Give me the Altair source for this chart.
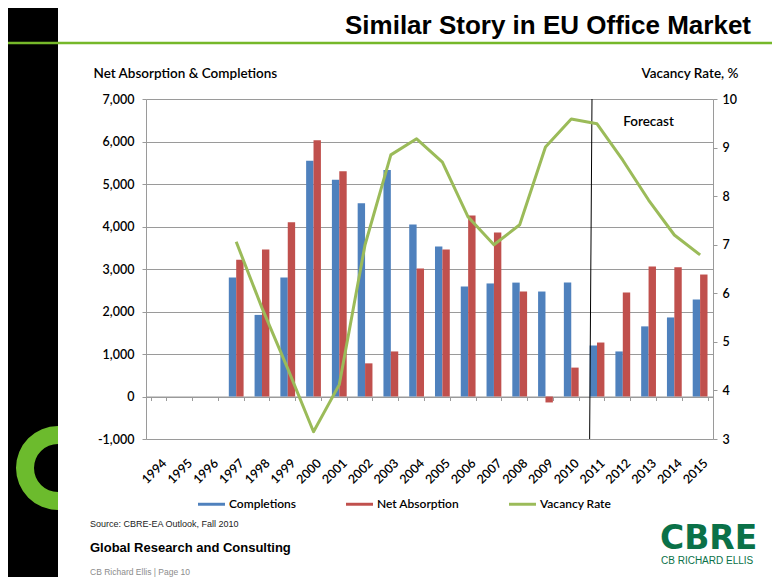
import math
import altair as alt
import pandas as pd

# ---------------- data ----------------
years = [str(y) for y in range(1994, 2016)]
completions = [None, None, None, 2800, 1920, 2800, 5550, 5100, 4550, 5330, 4050,
               3530, 2590, 2660, 2680, 2470, 2680, 1200, 1060, 1650, 1860, 2280]
net_absorption = [None, None, None, 3220, 3460, 4100, 6030, 5300, 780, 1060, 3010,
                  3460, 4260, 3860, 2470, -140, 680, 1270, 2450, 3060, 3040, 2870]
vacancy_rate = [None, None, None, 7.06, 5.70, 4.45, 3.15, 4.12, 7.00, 8.85, 9.18,
                8.70, 7.57, 7.00, 7.41, 9.01, 9.59, 9.49, 8.74, 7.92, 7.20, 6.79]
series_names = ["Completions", "Net Absorption", "Vacancy Rate"]
series_colors = ["#4F81BD", "#C0504D", "#9BBB59"]
left_ticks = list(range(-1000, 8000, 1000))
right_ticks = list(range(3, 11))

bar_rows = []
for y, c, a in zip(years, completions, net_absorption):
    if c is not None:
        bar_rows.append({"year": y, "series": "Completions", "value": c})
    if a is not None:
        bar_rows.append({"year": y, "series": "Net Absorption", "value": a})
bar_df = pd.DataFrame(bar_rows)
vac_df = pd.DataFrame([{"year": y, "rate": v} for y, v in zip(years, vacancy_rate) if v is not None])

# ---------------- layout helpers ----------------
W, H = 764, 569
PLOT_W, PLOT_H = 567, 340
PL, PT = 138, 91  # plot origin on the svg (page 146, 99)


def px(page_x):
    return page_x - 146


def py(page_y):
    return page_y - 99


GREY = "#9a9a9a"
FONT = "Lato"
FW = 600
ARIAL = "Liberation Sans, Arial, sans-serif"
dummy = alt.Data(values=[{}])

xscale = alt.Scale(domain=years, paddingInner=0.426, paddingOuter=0.213)
xaxis = alt.Axis(title=None, offset=-42.5, domainColor=GREY, tickColor=GREY, tickSize=4,
                 tickBand="extent", labelAngle=315, labelAlign="right", labelBaseline="top",
                 labelPadding=56, labelOffset=1, labelFont=FONT, labelFontSize=12.5,
                 labelFontWeight=FW, labelColor="black", labelOverlap=False, grid=False)
lscale = alt.Scale(domain=[-1000, 7000], nice=False)
laxis = alt.Axis(values=left_ticks, format=",d", labelExpr="replace(datum.label, '\u2212', '-')",
                 grid=True, gridColor=GREY, domainColor=GREY, tickColor=GREY, tickSize=4,
                 labelPadding=8, labelFont=FONT, labelFontSize=12.5, labelFontWeight=FW,
                 labelColor="black",
                 title="Net Absorption & Completions", titleAngle=0, titleAlign="left",
                 titleBaseline="middle", titleX=-53, titleY=-26, titleFont=FONT,
                 titleFontSize=13.5, titleFontWeight=FW, titleColor="black")
rscale = alt.Scale(domain=[3, 10], nice=False)
raxis = alt.Axis(orient="right", values=right_ticks, grid=False, domainColor=GREY,
                 tickColor=GREY, tickSize=4, labelPadding=5, labelFont=FONT,
                 labelFontSize=12.5, labelFontWeight=FW, labelColor="black",
                 title="Vacancy Rate, %", titleAngle=0, titleAlign="right",
                 titleBaseline="middle", titleX=25, titleY=-26, titleFont=FONT,
                 titleFontSize=13.5, titleFontWeight=FW, titleColor="black")

legend = alt.Legend(orient="none", legendX=52, legendY=391.5, direction="horizontal",
                    title=None, symbolType="M-1,-0.11H1V0.11H-1Z", symbolSize=729,
                    symbolStrokeWidth=0, labelFont=FONT, labelFontSize=12,
                    labelFontWeight=FW, labelColor="black", columnPadding=49,
                    labelOffset=4, padding=0)

bars = alt.Chart(bar_df).mark_bar().encode(
    x=alt.X("year:O", scale=xscale, axis=xaxis),
    xOffset=alt.XOffset("series:N", scale=alt.Scale(domain=series_names[:2]), sort=series_names[:2]),
    y=alt.Y("value:Q", scale=lscale, axis=laxis),
    color=alt.Color("series:N", scale=alt.Scale(domain=series_names, range=series_colors),
                    legend=legend),
)

divider = alt.Chart(dummy).mark_rule(color="black", strokeWidth=1).encode(
    x=alt.X(datum="2011", type="ordinal", bandPosition=0.16, scale=xscale),
    x2=alt.X2Datum("2011", bandPosition=0.0),
    y=alt.Y(datum=7000, scale=lscale),
    y2=alt.Y2Datum(-1000),
)

left = alt.layer(bars, divider)

line = alt.Chart(vac_df).mark_line(color="#9BBB59", strokeWidth=3, strokeJoin="round").encode(
    x=alt.X("year:O", scale=xscale, axis=xaxis),
    y=alt.Y("rate:Q", scale=rscale, axis=raxis),
)
forecast = alt.Chart(dummy).mark_text(text="Forecast", font=FONT, fontSize=13.5,
                                      fontWeight=FW, color="black", baseline="middle").encode(
    x=alt.X(datum="2013", type="ordinal", scale=xscale),
    y=alt.Y(datum=9.53, scale=rscale),
)
right = alt.layer(line, forecast)


# ---------------- slide decoration ----------------
def txt(text, x, y, **kw):
    return alt.Chart(dummy).mark_text(text=text, **kw).encode(x=alt.value(x), y=alt.value(y))


black_bar = alt.Chart(dummy).mark_rect(color="black").encode(
    x=alt.value(-PL), x2=alt.value(px(58)), y=alt.value(-PT), y2=alt.value(H - PT))
top_line = alt.Chart(dummy).mark_rule(color="#76B82A", strokeWidth=2.5).encode(
    x=alt.value(-PL), x2=alt.value(W - PL), y=alt.value(py(43)))
c_logo = alt.Chart(dummy).mark_arc(radius=42, radius2=24, theta=math.pi, theta2=2 * math.pi,
                                   color="#6CBB2D").encode(
    x=alt.value(px(58)), y=alt.value(py(468)))

title = txt("Similar Story in EU Office Market", px(751), py(34), align="right",
            baseline="alphabetic", font=ARIAL, fontSize=26, fontWeight="bold", color="black")
source = txt("Source: CBRE-EA Outlook, Fall 2010", px(90), py(527), align="left",
             baseline="alphabetic", font=ARIAL, fontSize=9, color="#222222")
grc = txt("Global Research and Consulting", px(90), py(552), align="left",
          baseline="alphabetic", font=ARIAL, fontSize=13, fontWeight="bold", color="black")
footer = txt("CB Richard Ellis  |  Page 10", px(90), py(575), align="left",
             baseline="alphabetic", font=ARIAL, fontSize=8.5, color="#8c8c8c")
cbre = txt("CBRE", px(660), py(549), align="left", baseline="alphabetic",
           font="DejaVu Sans", fontSize=33, fontWeight="bold", color="#0A7148")
cbre_sub = txt("CB RICHARD ELLIS", px(661), py(563.5), align="left", baseline="alphabetic",
               font=ARIAL, fontSize=10, color="#0A7148")

chart = alt.layer(
    black_bar, top_line, c_logo, title, source, grc, footer, cbre, cbre_sub,
    alt.layer(left, right).resolve_scale(y="independent"),
).properties(
    width=PLOT_W, height=PLOT_H,
    padding={"left": PL, "top": PT, "right": W - PL - PLOT_W, "bottom": H - PT - PLOT_H},
    autosize=alt.AutoSizeParams(type="none"),
    background="white",
).configure_view(strokeWidth=0).configure(font=FONT)

chart.save("out.html", embed_options={"renderer": "svg", "actions": False})
